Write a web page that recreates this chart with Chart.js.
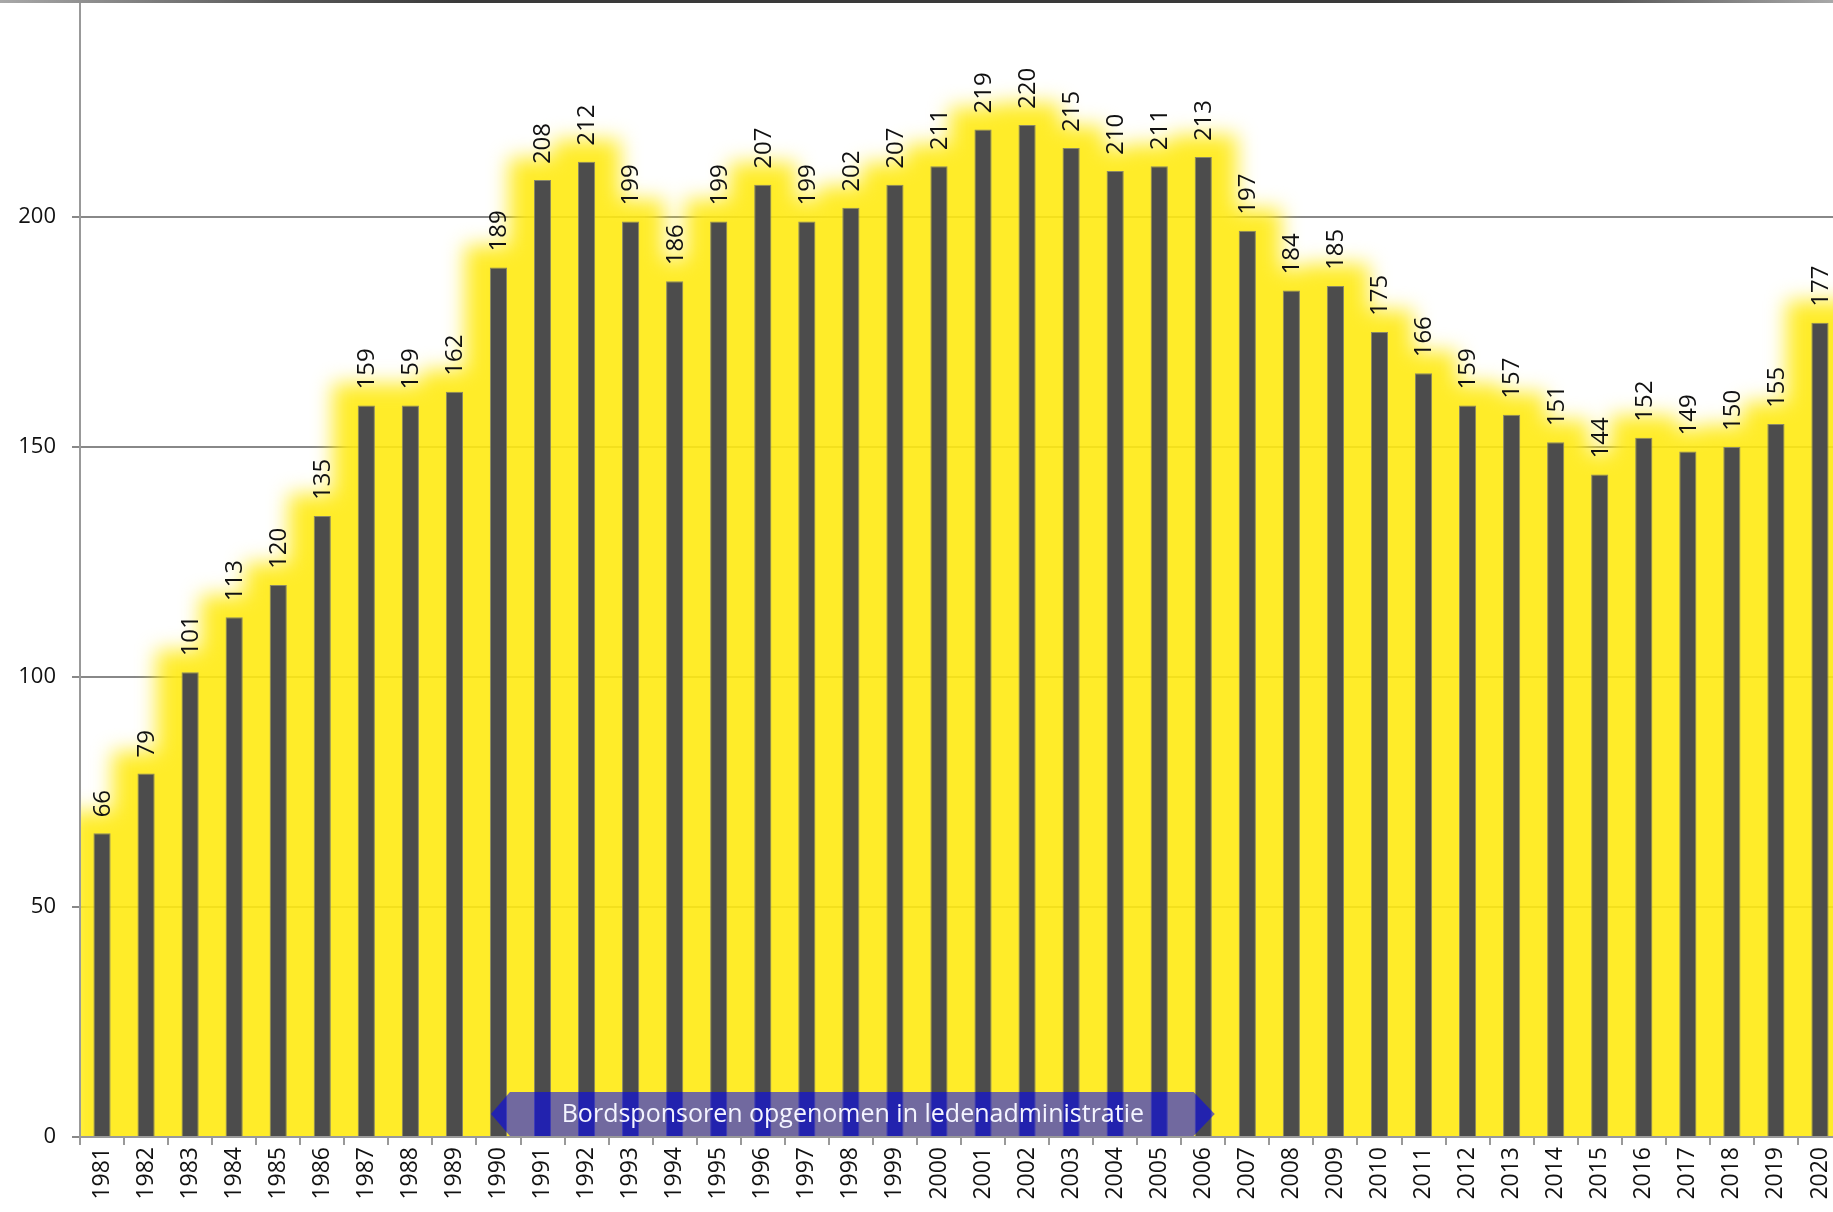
<!DOCTYPE html>
<html>
<head>
<meta charset="utf-8">
<script src="https://cdn.jsdelivr.net/npm/chart.js@4/dist/chart.umd.min.js"></script>
<style>
  html, body { margin: 0; padding: 0; background: #fff; width: 1833px; height: 1212px; overflow: hidden; }
  #topline { position: absolute; left: 0; top: 0; width: 1833px; height: 3px;
    background: linear-gradient(to right, #a8a8a8 0%, #5a5a5a 15%, #3a3a3a 25%, #3a3a3a 75%, #5a5a5a 88%, #a8a8a8 100%); z-index: 2; }
  #wrap { position: absolute; left: 0; top: 0; }
</style>
</head>
<body>
<div id="topline"></div>
<div id="wrap"><canvas id="c" width="1842" height="1212"></canvas></div>
<script>
const years = ['1981','1982','1983','1984','1985','1986','1987','1988','1989','1990',
  '1991','1992','1993','1994','1995','1996','1997','1998','1999','2000',
  '2001','2002','2003','2004','2005','2006','2007','2008','2009','2010',
  '2011','2012','2013','2014','2015','2016','2017','2018','2019','2020'];
const members = [66,79,101,113,120,135,159,159,162,189,
  208,212,199,186,199,207,199,202,207,211,
  219,220,215,210,211,213,197,184,185,175,
  166,159,157,151,144,152,149,150,155,177];
const yTicks = [0,50,100,150,200];
const annotStart = '1990';
const annotEnd = '2006';
const annotText = 'Bordsponsoren opgenomen in ledenadministratie';

const FONT = '"Open Sans", "DejaVu Sans", sans-serif';

const glowPlugin = {
  id: 'glow',
  beforeDatasetsDraw(chart) {
    const ctx = chart.ctx, a = chart.chartArea;
    const meta = chart.getDatasetMeta(0);
    ctx.save();
    ctx.beginPath();
    ctx.rect(a.left + 1, a.top, a.right - a.left, a.bottom - a.top - 1);
    ctx.clip();
    ctx.filter = 'blur(10px)';
    ctx.fillStyle = 'rgba(255,234,18,0.9)';
    ctx.beginPath();
    meta.data.forEach(b => {
      const p = b.getProps(['x','y','base','width'], true);
      ctx.rect(p.x - p.width / 2 - 25, p.y - 22, p.width + 50, p.base - p.y + 80);
    });
    ctx.fill();
    ctx.restore();
  },
  afterDatasetsDraw(chart) {
    const ctx = chart.ctx, a = chart.chartArea;
    const meta = chart.getDatasetMeta(0);
    // value labels
    ctx.save();
    ctx.fillStyle = '#111';
    ctx.font = '24px ' + FONT;
    ctx.textAlign = 'left';
    ctx.textBaseline = 'middle';
    meta.data.forEach((b, i) => {
      const p = b.getProps(['x','y'], true);
      ctx.save();
      ctx.translate(p.x + 1, p.y - 16);
      ctx.rotate(-Math.PI / 2);
      ctx.fillText(String(members[i]), 0, 0);
      ctx.restore();
    });
    ctx.restore();
    // annotation arrow box
    const xs = chart.scales.x;
    const cw = (xs.right - xs.left) / years.length;
    const c0 = xs.getPixelForValue(years.indexOf(annotStart));
    const c1 = xs.getPixelForValue(years.indexOf(annotEnd));
    const tipL = c0 - cw * 0.17, bodyL = c0 + cw * 0.26;
    const tipR = c1 + cw * 0.26, bodyR = c1 - cw * 0.22;
    const bot = a.bottom - 1, top = a.bottom - 45, mid = (top + bot) / 2;
    ctx.save();
    ctx.beginPath();
    ctx.moveTo(tipL, mid);
    ctx.lineTo(bodyL, top);
    ctx.lineTo(bodyR, top);
    ctx.lineTo(tipR, mid);
    ctx.lineTo(bodyR, bot);
    ctx.lineTo(bodyL, bot);
    ctx.closePath();
    ctx.fillStyle = 'rgba(2,2,252,0.56)';
    ctx.fill();
    ctx.fillStyle = '#f4f4ff';
    ctx.font = '25px ' + FONT;
    ctx.textAlign = 'center';
    ctx.textBaseline = 'middle';
    ctx.fillText(annotText, (tipL + tipR) / 2, mid + 1, 596);
    ctx.restore();
  }
};

new Chart(document.getElementById('c'), {
  type: 'bar',
  data: {
    labels: years,
    datasets: [{
      data: members,
      backgroundColor: '#4c4c4c',
      borderColor: 'rgba(125,125,110,0.9)',
      borderWidth: 1,
      barPercentage: 0.39,
      categoryPercentage: 1.0
    }]
  },
  options: {
    responsive: false,
    animation: false,
    events: [],
    layout: { padding: { top: 3, right: 0, left: 0, bottom: 0 } },
    plugins: { legend: { display: false }, tooltip: { enabled: false } },
    scales: {
      x: {
        grid: { display: true, drawOnChartArea: false, drawTicks: true, tickLength: 8, color: '#999', lineWidth: 2, offset: true },
        border: { display: true, color: '#999', width: 2 },
        ticks: { color: '#111', font: { family: FONT, size: 23 }, minRotation: 90, maxRotation: 90, padding: 2, autoSkip: false },
        afterFit(s) { s.height = 75; s.paddingLeft = 0; s.paddingRight = 0; }
      },
      y: {
        min: 0, max: 246.5,
        afterBuildTicks(s) { s.ticks = yTicks.map(v => ({ value: v })); },
        grid: { color: '#888', lineWidth: 2, tickLength: 8, drawTicks: true },
        border: { display: true, color: '#999', width: 2 },
        ticks: { color: '#111', font: { family: FONT, size: 22 }, padding: 16 },
        afterFit(s) { s.width = 80; s.paddingTop = 0; s.paddingBottom = 0; }
      }
    }
  },
  plugins: [glowPlugin]
});
</script>
</body>
</html>
